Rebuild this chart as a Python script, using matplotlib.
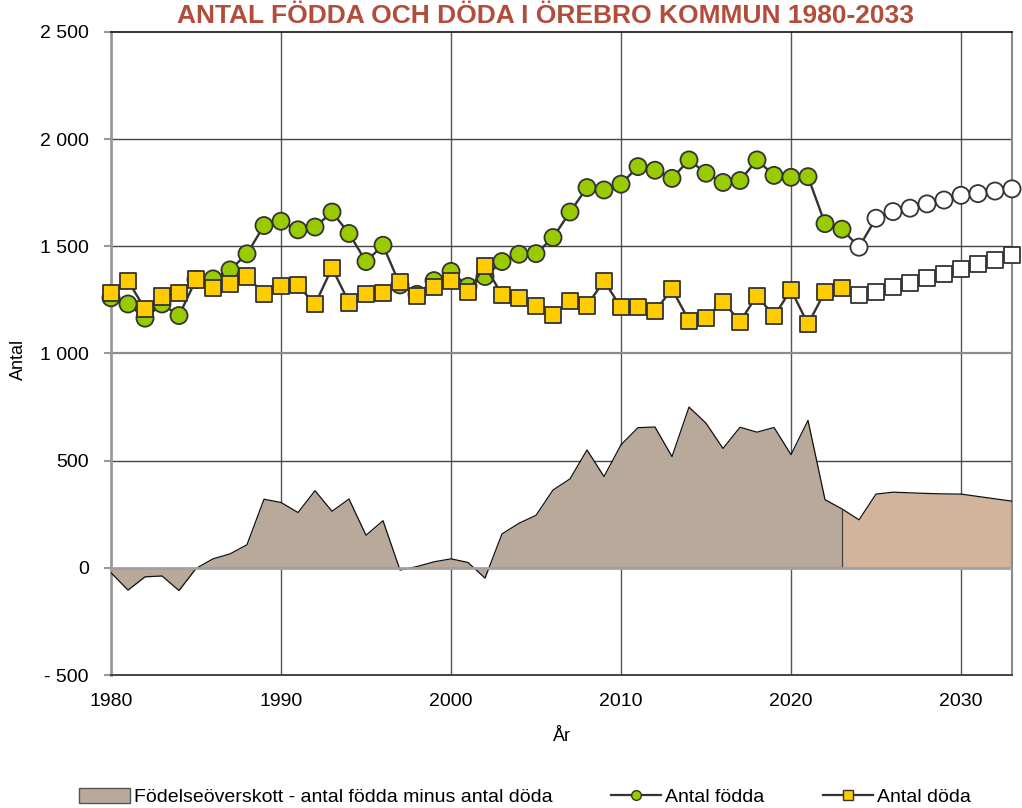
import matplotlib
matplotlib.use("Agg")
import matplotlib.pyplot as plt
from matplotlib.lines import Line2D
from matplotlib.patches import Patch
from matplotlib.ticker import FuncFormatter, MultipleLocator

years = list(range(1980, 2034))
born = [1260, 1231, 1165, 1231, 1177, 1345, 1348, 1390, 1465, 1597,
        1617, 1577, 1590, 1660, 1560, 1429, 1505, 1320, 1276, 1340,
        1383, 1313, 1359, 1429, 1463, 1466, 1541, 1660, 1774, 1763,
        1790, 1872, 1855, 1817, 1903, 1841, 1798, 1807, 1903, 1831,
        1822, 1825, 1606, 1580, 1496, 1631, 1662, 1678, 1698, 1716,
        1738, 1746, 1758, 1768]
deaths = [1284, 1339, 1208, 1266, 1281, 1345, 1305, 1325, 1359, 1278,
          1314, 1318, 1229, 1399, 1238, 1276, 1283, 1332, 1270, 1312,
          1340, 1288, 1410, 1273, 1258, 1222, 1178, 1245, 1224, 1339,
          1215, 1215, 1197, 1301, 1153, 1167, 1242, 1149, 1270, 1175,
          1297, 1137, 1289, 1304, 1273, 1287, 1309, 1328, 1351, 1371,
          1395, 1416, 1438, 1458]
surplus = [-23, -104, -42, -38, -106, -3, 42, 65, 108, 320,
           305, 258, 360, 264, 321, 152, 220, -10, 6, 28,
           42, 25, -48, 158, 208, 245, 363, 415, 550, 426,
           574, 654, 657, 519, 750, 675, 557, 656, 633, 655,
           528, 688, 318, 275, 224, 344, 353, 350, 347, 345,
           344, 333, 322, 311]
last_outcome_year = 2023
title = "ANTAL FÖDDA OCH DÖDA I ÖREBRO KOMMUN 1980-2033"
legend_labels = ["Födelseöverskott - antal födda minus antal döda", "Antal födda", "Antal döda"]

GREEN = "#99cc00"
YELLOW = "#ffcc00"
HIST_FILL = "#b9a99a"
PROG_FILL = "#d2b49c"
EDGE = "#333333"
TITLE_C = "#b24c3b"

plt.rcParams['font.family'] = ['Liberation Sans Narrow', 'Liberation Sans', 'DejaVu Sans']
tick_font = ['Liberation Sans', 'DejaVu Sans']

fig = plt.figure(figsize=(10.22, 8.08), dpi=100)
ax = fig.add_axes([111/1022, 1 - 675/808, (1012-111)/1022, (675-32)/808])

split = years.index(last_outcome_year)
hx = years[:split+1]; hy = surplus[:split+1]
px = years[split:]; py = surplus[split:]
ax.fill_between(hx, hy, 0, color=HIST_FILL, lw=0, zorder=2)
ax.fill_between(px, py, 0, color=PROG_FILL, lw=0, zorder=2)
ax.plot(years, surplus, color="#111111", lw=0.9, zorder=3)
ax.vlines(last_outcome_year, 0, surplus[split], color="#444444", lw=0.9, zorder=3)

# births
fc_b = [GREEN if y <= last_outcome_year else "white" for y in years]
ax.plot(years, born, color=EDGE, lw=1.7, zorder=4, clip_on=False)
ax.scatter(years, born, s=12.3**2, marker='o', facecolors=fc_b, edgecolors=EDGE,
           linewidths=1.3, zorder=5, clip_on=False)
# deaths
fc_d = [YELLOW if y <= last_outcome_year else "white" for y in years]
ax.plot(years, deaths, color=EDGE, lw=1.7, zorder=6, clip_on=False)
ax.scatter(years, deaths, s=11.6**2, marker='s', facecolors=fc_d, edgecolors=EDGE,
           linewidths=1.3, zorder=7, clip_on=False)

ax.set_xlim(1980, 2033)
ax.set_ylim(-500, 2500)
ax.xaxis.set_major_locator(MultipleLocator(10))
ax.yaxis.set_major_locator(MultipleLocator(500))

def yfmt(v, pos):
    v = int(round(v))
    s = f"{abs(v):,}".replace(",", " ")
    return ("- " + s) if v < 0 else s
ax.yaxis.set_major_formatter(FuncFormatter(yfmt))

# grid
for x in range(1990, 2033, 10):
    ax.axvline(x, color="#555555", lw=1.0, zorder=1)
for y in [500, 1500, 2000]:
    ax.axhline(y, color="#444444", lw=1.0, zorder=1)
ax.axhline(1000, color="#8c8c8c", lw=1.6, zorder=1)
ax.axhline(0, color="#a0a0a0", lw=2.0, zorder=3.5)

ax.spines['left'].set_color("#999999"); ax.spines['left'].set_linewidth(2.0)
ax.spines['right'].set_color("#8a8a8a"); ax.spines['right'].set_linewidth(1.5)
ax.spines['top'].set_color("#111111"); ax.spines['top'].set_linewidth(1.2)
ax.spines['bottom'].set_color("#444444"); ax.spines['bottom'].set_linewidth(1.4)

ax.tick_params(axis='y', length=5, width=1.5, color="#999999", pad=11, labelsize=14)
ax.tick_params(axis='x', length=0, pad=13, labelsize=14)
for lab in ax.get_xticklabels() + ax.get_yticklabels():
    lab.set_family(tick_font)

ax.set_ylabel("Antal", fontsize=13, family=tick_font)
ax.yaxis.set_label_coords(-0.093, 0.49)
ax.set_xlabel("År", fontsize=13, family=tick_font, labelpad=13)

# title fitted to width
t = fig.text(545/1022, 1 - 16/808, title, ha='center', va='center', fontsize=20,
             fontweight='bold', color=TITLE_C)
fig.canvas.draw()
r = fig.canvas.get_renderer()
w = t.get_window_extent(r).width
t.set_fontsize(20 * 735 / w)

handles = [Patch(facecolor=HIST_FILL, edgecolor="#555555", lw=1.0),
           Line2D([0], [0], color=EDGE, lw=1.6, marker='o', markersize=7,
                  markerfacecolor=GREEN, markeredgecolor=EDGE),
           Line2D([0], [0], color=EDGE, lw=1.6, marker='s', markersize=7,
                  markerfacecolor=YELLOW, markeredgecolor=EDGE)]
leg = fig.legend(handles, legend_labels, loc='center', bbox_to_anchor=(525/1022, 1 - 797/808),
                 ncol=3, frameon=False, fontsize=14, handlelength=2.6, handletextpad=0.2,
                 columnspacing=3.0, handleheight=0.8)

fig.savefig("out.png", dpi=100)
